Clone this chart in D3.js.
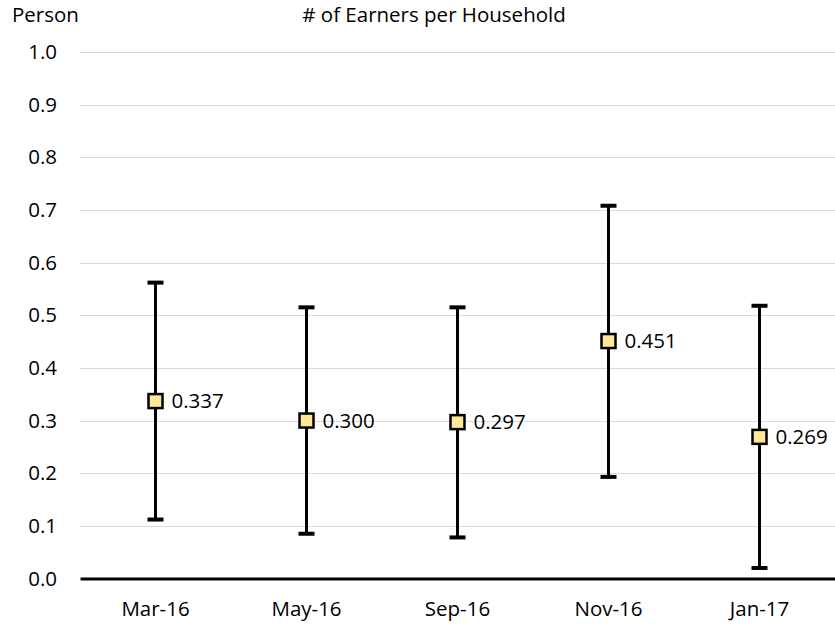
<!DOCTYPE html>
<html>
<head>
<meta charset="utf-8">
<script src="https://cdn.jsdelivr.net/npm/d3@7"></script>
<style>
  html, body { margin: 0; padding: 0; background: #fff; }
  svg text { font-family: "Open Sans", "Liberation Sans", sans-serif; fill: #000; }
</style>
</head>
<body>
<svg id="chart" width="835" height="627"></svg>
<script>
// Survey periods and estimates with their confidence bounds
const periods = ["Mar-16", "May-16", "Sep-16", "Nov-16", "Jan-17"];
const estimates = [0.337, 0.300, 0.297, 0.451, 0.269];
const upperBounds = [0.562, 0.515, 0.515, 0.708, 0.518];
const lowerBounds = [0.112, 0.085, 0.078, 0.193, 0.020];
const yTicks = [0.0, 0.1, 0.2, 0.3, 0.4, 0.5, 0.6, 0.7, 0.8, 0.9, 1.0];

const svg = d3.select("#chart");
const plotLeft = 80, plotRight = 835, plotTop = 52, plotBottom = 578.5;
const fs = 20.5;

const x = d3.scaleBand().domain(periods).range([plotLeft, plotRight]).padding(0);
const y = d3.scaleLinear().domain([0, 1]).range([plotBottom, plotTop]);

// horizontal gridlines
svg.append("g")
  .selectAll("line")
  .data(yTicks.filter(d => d > 0))
  .join("line")
  .attr("x1", plotLeft).attr("x2", plotRight)
  .attr("y1", d => Math.round(y(d)) + 0.5).attr("y2", d => Math.round(y(d)) + 0.5)
  .attr("stroke", "#d9d9d9").attr("stroke-width", 1);

// y axis tick labels
const yAxis = d3.axisLeft(y).tickValues(yTicks).tickFormat(d3.format(".1f")).tickSize(0).tickPadding(0);
const gy = svg.append("g").attr("transform", `translate(${plotLeft - 23},0)`).call(yAxis);
gy.select(".domain").remove();
gy.selectAll("text").attr("font-size", fs).attr("font-family", "Open Sans").attr("fill", "#000");

// x axis baseline and category labels
const xAxis = d3.axisBottom(x).tickSize(0).tickPadding(0);
const gx = svg.append("g").attr("transform", `translate(0,${plotBottom})`).call(xAxis);
gx.select(".domain").attr("stroke", "#000").attr("stroke-width", 3);
gx.selectAll("text").attr("font-size", fs).attr("font-family", "Open Sans").attr("fill", "#000")
  .attr("dy", 0).attr("y", 37);

// titles
svg.append("text").attr("x", 12).attr("y", 22).attr("font-size", fs).text("Person");
svg.append("text").attr("x", 434).attr("y", 22).attr("font-size", fs)
  .attr("text-anchor", "middle").text("# of Earners per Household");

const cx = d => x(d) + x.bandwidth() / 2;
const rows = periods.map((p, i) => ({ p, v: estimates[i], hi: upperBounds[i], lo: lowerBounds[i] }));

// error bars
const eb = svg.append("g").selectAll("g").data(rows).join("g");
eb.append("line")
  .attr("x1", d => cx(d.p)).attr("x2", d => cx(d.p))
  .attr("y1", d => y(d.hi)).attr("y2", d => y(d.lo))
  .attr("stroke", "#000").attr("stroke-width", 3);
eb.append("line")
  .attr("x1", d => cx(d.p) - 8).attr("x2", d => cx(d.p) + 8)
  .attr("y1", d => y(d.hi)).attr("y2", d => y(d.hi))
  .attr("stroke", "#000").attr("stroke-width", 4);
eb.append("line")
  .attr("x1", d => cx(d.p) - 8).attr("x2", d => cx(d.p) + 8)
  .attr("y1", d => y(d.lo)).attr("y2", d => y(d.lo))
  .attr("stroke", "#000").attr("stroke-width", 4);

// point markers
const s = 14;
svg.append("g").selectAll("rect").data(rows).join("rect")
  .attr("x", d => cx(d.p) - s / 2).attr("y", d => y(d.v) - s / 2)
  .attr("width", s).attr("height", s)
  .attr("fill", "#ffe699").attr("stroke", "#000").attr("stroke-width", 2.5);

// value labels
svg.append("g").selectAll("text").data(rows).join("text")
  .attr("x", d => cx(d.p) + 16).attr("y", d => y(d.v))
  .attr("dy", "0.35em").attr("font-size", fs)
  .text(d => d3.format(".3f")(d.v));
</script>
</body>
</html>
